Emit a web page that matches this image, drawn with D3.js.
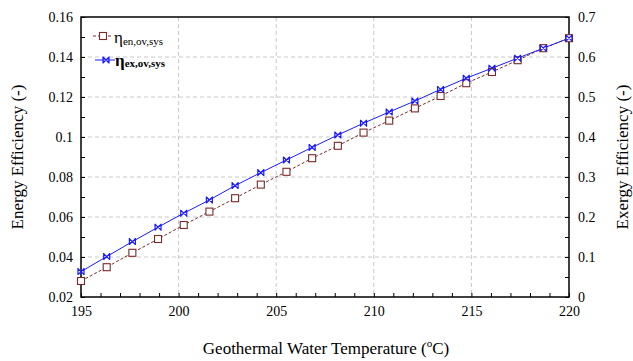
<!DOCTYPE html>
<html>
<head>
<meta charset="utf-8">
<script src="https://cdn.jsdelivr.net/npm/d3@7/dist/d3.min.js"></script>
<style>
  html, body { margin: 0; padding: 0; background: #fff; }
</style>
</head>
<body>
<svg id="chart" width="633" height="361"></svg>
<script>
// Geothermal water temperature (°C), 20 evaluation points
const temperatures = [195, 196.316, 197.632, 198.947, 200.263, 201.579, 202.895, 204.211, 205.526, 206.842,
  208.158, 209.474, 210.789, 212.105, 213.421, 214.737, 216.053, 217.368, 218.684, 220];
// Overall system energy efficiency (left axis)
const energyEff = [0.0280, 0.0349, 0.0421, 0.0490, 0.0560, 0.0627, 0.0694, 0.0762, 0.0826, 0.0894,
  0.0956, 0.1022, 0.1082, 0.1143, 0.1205, 0.1269, 0.1325, 0.1384, 0.1444, 0.1494];
// Overall system exergy efficiency (right axis)
const exergyEff = [0.0635, 0.1010, 0.1385, 0.1745, 0.2095, 0.2425, 0.2785, 0.3110, 0.3425, 0.3740,
  0.4050, 0.4345, 0.4625, 0.4900, 0.5190, 0.5470, 0.5720, 0.5970, 0.6220, 0.6470];
const xTicks = [195, 200, 205, 210, 215, 220];
const leftTicks = [0.02, 0.04, 0.06, 0.08, 0.1, 0.12, 0.14, 0.16];
const rightTicks = [0, 0.1, 0.2, 0.3, 0.4, 0.5, 0.6, 0.7];

const FONT = "'Liberation Serif', 'Times New Roman', Tinos, 'DejaVu Serif', serif";
const svg = d3.select("#chart");
const m = { left: 81, right: 569, top: 17, bottom: 297 };

const x = d3.scaleLinear().domain([195, 220]).range([m.left, m.right]);
const yL = d3.scaleLinear().domain([0.02, 0.16]).range([m.bottom, m.top]);
const yR = d3.scaleLinear().domain([0, 0.7]).range([m.bottom, m.top]);

// dashed grid at major ticks
const grid = svg.append("g").attr("stroke", "#c8c8c8").attr("stroke-dasharray", "4,3").attr("stroke-width", 1);
xTicks.slice(1, -1).forEach(t => {
  grid.append("line").attr("x1", x(t)).attr("x2", x(t)).attr("y1", m.top).attr("y2", m.bottom);
});
leftTicks.slice(1, -1).forEach(t => {
  grid.append("line").attr("x1", m.left).attr("x2", m.right).attr("y1", yL(t)).attr("y2", yL(t));
});

// axes: inward ticks
const fmt = d => String(+d.toFixed(2));
svg.append("g").attr("transform", `translate(0,${m.bottom})`)
  .call(d3.axisBottom(x).tickValues(d3.range(195, 221, 1)).tickSize(-4).tickFormat(""));
svg.append("g").attr("transform", `translate(0,${m.bottom})`)
  .call(d3.axisBottom(x).tickValues(xTicks).tickSize(0).tickPadding(9).tickFormat(d => d));
svg.append("g").attr("transform", `translate(${m.left},0)`)
  .call(d3.axisLeft(yL).tickValues(d3.range(0.02, 0.1601, 0.01)).tickSize(-4).tickFormat(""));
svg.append("g").attr("transform", `translate(${m.left},0)`)
  .call(d3.axisLeft(yL).tickValues(leftTicks).tickSize(0).tickPadding(8).tickFormat(fmt));
svg.append("g").attr("transform", `translate(${m.right},0)`)
  .call(d3.axisRight(yR).tickValues(d3.range(0, 0.7001, 0.05)).tickSize(-4).tickFormat(""));
svg.append("g").attr("transform", `translate(${m.right},0)`)
  .call(d3.axisRight(yR).tickValues(rightTicks).tickSize(0).tickPadding(9).tickFormat(fmt));

svg.selectAll(".domain").remove();
svg.selectAll("g").attr("font-family", FONT);
svg.selectAll(".tick line").attr("stroke", "#000").attr("stroke-width", 1);
svg.selectAll(".tick text").style("font-family", FONT).attr("font-size", 14).attr("fill", "#000");

// frame
svg.append("rect").attr("x", m.left).attr("y", m.top).attr("width", m.right - m.left).attr("height", m.bottom - m.top)
  .attr("fill", "none").attr("stroke", "#000").attr("stroke-width", 1.5);

// series
const enColor = "#7a2a2a";
const exColor = "#1a1aff";
const lineL = d3.line().x((d, i) => x(temperatures[i])).y(d => yL(d));
const lineR = d3.line().x((d, i) => x(temperatures[i])).y(d => yR(d));

svg.append("path").datum(energyEff).attr("d", lineL).attr("fill", "none")
  .attr("stroke", enColor).attr("stroke-width", 1).attr("stroke-dasharray", "3,2");
svg.append("path").datum(exergyEff).attr("d", lineR).attr("fill", "none")
  .attr("stroke", exColor).attr("stroke-width", 1);

const sq = 7;
svg.append("g").selectAll("rect").data(energyEff).join("rect")
  .attr("x", (d, i) => x(temperatures[i]) - sq / 2).attr("y", d => yL(d) - sq / 2)
  .attr("width", sq).attr("height", sq).attr("fill", "#fff").attr("stroke", enColor).attr("stroke-width", 1.1);

const bow = "M-3,-3L3,3M3,-3L-3,3M-3,-3.5V3.5M3,-3.5V3.5";
svg.append("g").selectAll("path").data(exergyEff).join("path")
  .attr("transform", (d, i) => `translate(${x(temperatures[i])},${yR(d)})`)
  .attr("d", bow).attr("fill", "none").attr("stroke", exColor).attr("stroke-width", 1.2);

// legend
const lg = svg.append("g");
lg.append("line").attr("x1", 93).attr("x2", 113).attr("y1", 36).attr("y2", 36)
  .attr("stroke", enColor).attr("stroke-dasharray", "3,2");
lg.append("rect").attr("x", 103 - sq / 2).attr("y", 36 - sq / 2).attr("width", sq).attr("height", sq)
  .attr("fill", "#fff").attr("stroke", enColor).attr("stroke-width", 1.1);
const t1 = lg.append("text").attr("x", 114).attr("y", 43).attr("font-size", 17).attr("fill", "#000");
t1.append("tspan").text("η");
t1.append("tspan").attr("font-size", 11).attr("dy", 2).text("en,ov,sys");

lg.append("line").attr("x1", 95).attr("x2", 115).attr("y1", 60).attr("y2", 60).attr("stroke", exColor);
lg.append("path").attr("transform", "translate(106,60)").attr("d", bow)
  .attr("fill", "none").attr("stroke", exColor).attr("stroke-width", 1.2);
const t2 = lg.append("text").attr("x", 115).attr("y", 66).attr("font-size", 17).attr("font-weight", "bold").attr("fill", "#000");
t2.append("tspan").text("η");
t2.append("tspan").attr("font-size", 11).attr("dy", 1).text("ex,ov,sys");

// axis titles
svg.append("text").attr("transform", "translate(23,157) rotate(-90)").attr("text-anchor", "middle")
  .attr("font-size", 17).text("Energy Efficiency (-)");
svg.append("text").attr("transform", "translate(628,157) rotate(-90)").attr("text-anchor", "middle")
  .attr("font-size", 17).text("Exergy Efficiency (-)");
const xt = svg.append("text").attr("x", 326).attr("y", 354).attr("text-anchor", "middle").attr("font-size", 17);
xt.append("tspan").text("Geothermal Water Temperature (");
xt.append("tspan").attr("font-size", 11).attr("dy", -7).text("o");
xt.append("tspan").attr("dy", 7).text("C)");

svg.selectAll("text").style("font-family", FONT);
</script>
</body>
</html>
